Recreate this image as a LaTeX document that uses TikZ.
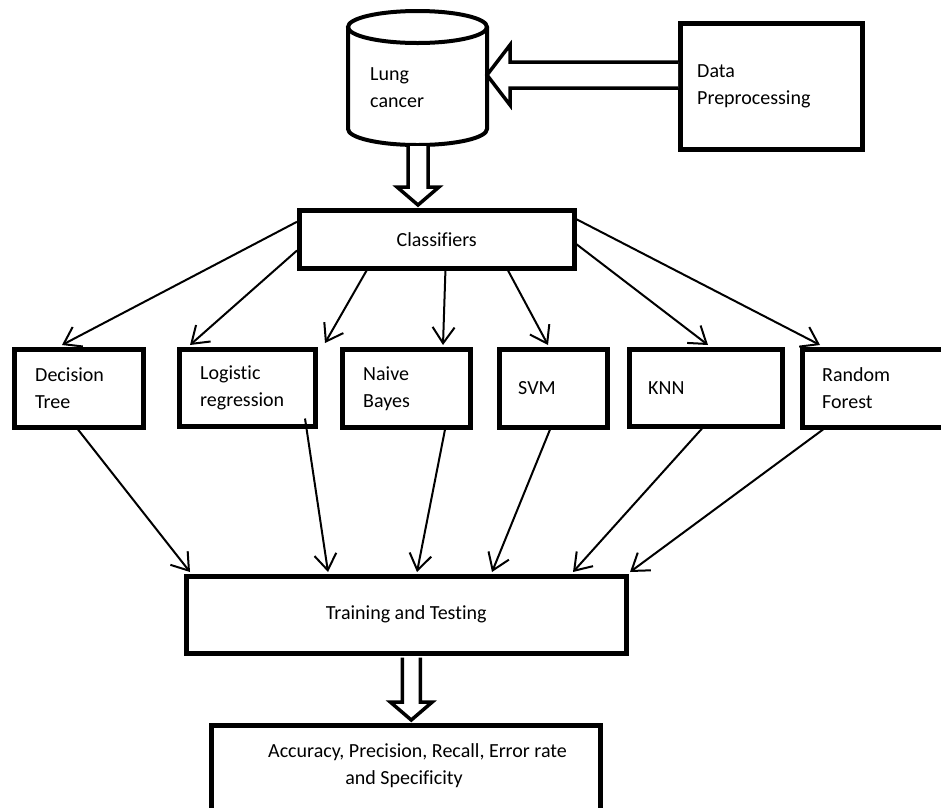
\documentclass[tikz,border=0pt]{standalone}
\usepackage{fontspec}
\setmainfont{Carlito}[Ligatures=NoCommon]
\usetikzlibrary{arrows.meta,calc}
\begin{document}
\begin{tikzpicture}[x=1pt,y=-1pt,
  mbox/.style={draw, line width=4.5pt, anchor=north west, inner sep=0pt, fill=white,
    font=\fontsize{20}{27}\selectfont},
  lab/.style={font=\fontsize{20}{27}\selectfont, inner sep=0pt, align=left},
  arr/.style={line width=2pt, -{Straight Barb[length=16pt,width=22pt,line width=2pt]}},
  hollow/.style={line width=3.5pt, fill=white, line join=miter},
  cyl/.style={line width=4pt, fill=white}]
\useasboundingbox (0,0) rectangle (941,807);

% cylinder (Lung cancer)
\draw[cyl] (348,27) -- (348,129) arc[start angle=180, end angle=360, x radius=69.5pt, y radius=16pt] -- (487,27);
\draw[cyl] (417.5,27) ellipse [x radius=69.5pt, y radius=16pt];
\node[lab] (lung) at (370,88) [anchor=west] {Lung\\cancer};
\coordinate (cylR) at (487,75);
\coordinate (cylB) at (418,146);

% boxes
\node[mbox, minimum width=182pt, minimum height=126pt,
  label={[lab, anchor=west, xshift=19pt]west:Data\\Preprocessing}] (dp) at (678,21) {};
\node[mbox, minimum width=275pt, minimum height=58pt] (cls) at (297,208) {Classifiers};

\node[mbox, minimum width=129pt, minimum height=78pt,
  label={[lab, anchor=west, xshift=23pt]west:Decision\\Tree}] (dt) at (12,347) {};
\node[mbox, minimum width=136pt, minimum height=77pt,
  label={[lab, anchor=west, xshift=23pt]west:Logistic\\regression}] (lr) at (177,347) {};
\node[mbox, minimum width=128pt, minimum height=78pt,
  label={[lab, anchor=west, xshift=23pt]west:Naive\\Bayes}] (nb) at (340,347) {};
\node[mbox, minimum width=108pt, minimum height=78pt,
  label={[lab, anchor=west, xshift=21pt]west:SVM}] (svm) at (497,347) {};
\node[mbox, minimum width=153pt, minimum height=77pt,
  label={[lab, anchor=west, xshift=21pt]west:KNN}] (knn) at (627,347) {};
\node[mbox, minimum width=160pt, minimum height=78pt,
  label={[lab, anchor=west, xshift=22pt]west:Random\\Forest}] (rf) at (800,347) {};

\node[mbox, minimum width=440pt, minimum height=77pt] (tt) at (184,574) {Training and Testing};
\node[mbox, minimum width=389pt, minimum height=117pt] (acc) at (209,723) {};
\node[lab, align=center] (acct) at (404,766) {\hspace*{27pt}Accuracy, Precision, Recall, Error rate\\and Specificity};

% hollow arrow: Data Preprocessing -> Lung cancer
\draw[hollow] ($(dp.west|-cylR)+(0,-13)$) -- ($(cylR)+(23,-13)$) -- ($(cylR)+(23,-30)$) -- (cylR)
  -- ($(cylR)+(23,30)$) -- ($(cylR)+(23,13)$) -- ($(dp.west|-cylR)+(0,13)$);

% hollow arrow: Lung cancer -> Classifiers
\coordinate (t1) at ($(cylB|-cls.north)+(0,-3)$);
\draw[hollow] ($(cylB)+(-10,0)$) -- ($(t1)+(-10,-18)$) -- ($(t1)+(-21,-18)$) -- (t1)
  -- ($(t1)+(21,-18)$) -- ($(t1)+(10,-18)$) -- ($(cylB)+(10,0)$);

% hollow arrow: Training and Testing -> metrics
\coordinate (s2) at ([xshift=5pt]tt.south);
\coordinate (t2) at ($(s2|-acc.north)+(0,-3)$);
\draw[hollow] ($(s2)+(-9,2)$) -- ($(t2)+(-9,-18)$) -- ($(t2)+(-21,-18)$) -- (t2)
  -- ($(t2)+(21,-18)$) -- ($(t2)+(9,-18)$) -- ($(s2)+(9,2)$);

% Classifiers -> models
\coordinate (gapend) at (325,343);
\draw[arr] ($(cls.north west)!0.22!(cls.south west)$) -- ([xshift=50pt,yshift=2pt]dt.north west);
\draw[arr] ($(cls.north west)!0.68!(cls.south west)$) -- ([xshift=13pt,yshift=2pt]lr.north west);
\draw[arr] ($(cls.south west)!0.249!(cls.south east)$) -- (gapend);
\draw[arr] ($(cls.south west)!0.531!(cls.south east)$) -- ([xshift=103pt,yshift=2pt]nb.north west);
\draw[arr] ($(cls.south west)!0.755!(cls.south east)$) -- ([xshift=51pt,yshift=2pt]svm.north west);
\draw[arr] ($(cls.north east)!0.58!(cls.south east)$) -- ([xshift=81pt,yshift=2pt]knn.north west);
\draw[arr] ($(cls.north east)!0.18!(cls.south east)$) -- ([xshift=20pt,yshift=2pt]rf.north west);

% models -> Training and Testing
\draw[arr] ([xshift=66pt]dt.south west) -- ([xshift=6pt,yshift=2pt]tt.north west);
\draw[arr] ([xshift=128pt,yshift=10pt]lr.south west) -- ([xshift=144pt,yshift=2pt]tt.north west);
\draw[arr] ([xshift=105pt]nb.south west) -- ([xshift=233pt,yshift=2pt]tt.north west);
\draw[arr] ([xshift=53pt]svm.south west) -- ([xshift=308pt,yshift=2pt]tt.north west);
\draw[arr] ([xshift=75pt]knn.south west) -- ([xshift=389pt,yshift=2pt]tt.north west);
\draw[arr] ([xshift=23pt]rf.south west) -- ([xshift=446pt,yshift=2pt]tt.north west);
\end{tikzpicture}
\end{document}
